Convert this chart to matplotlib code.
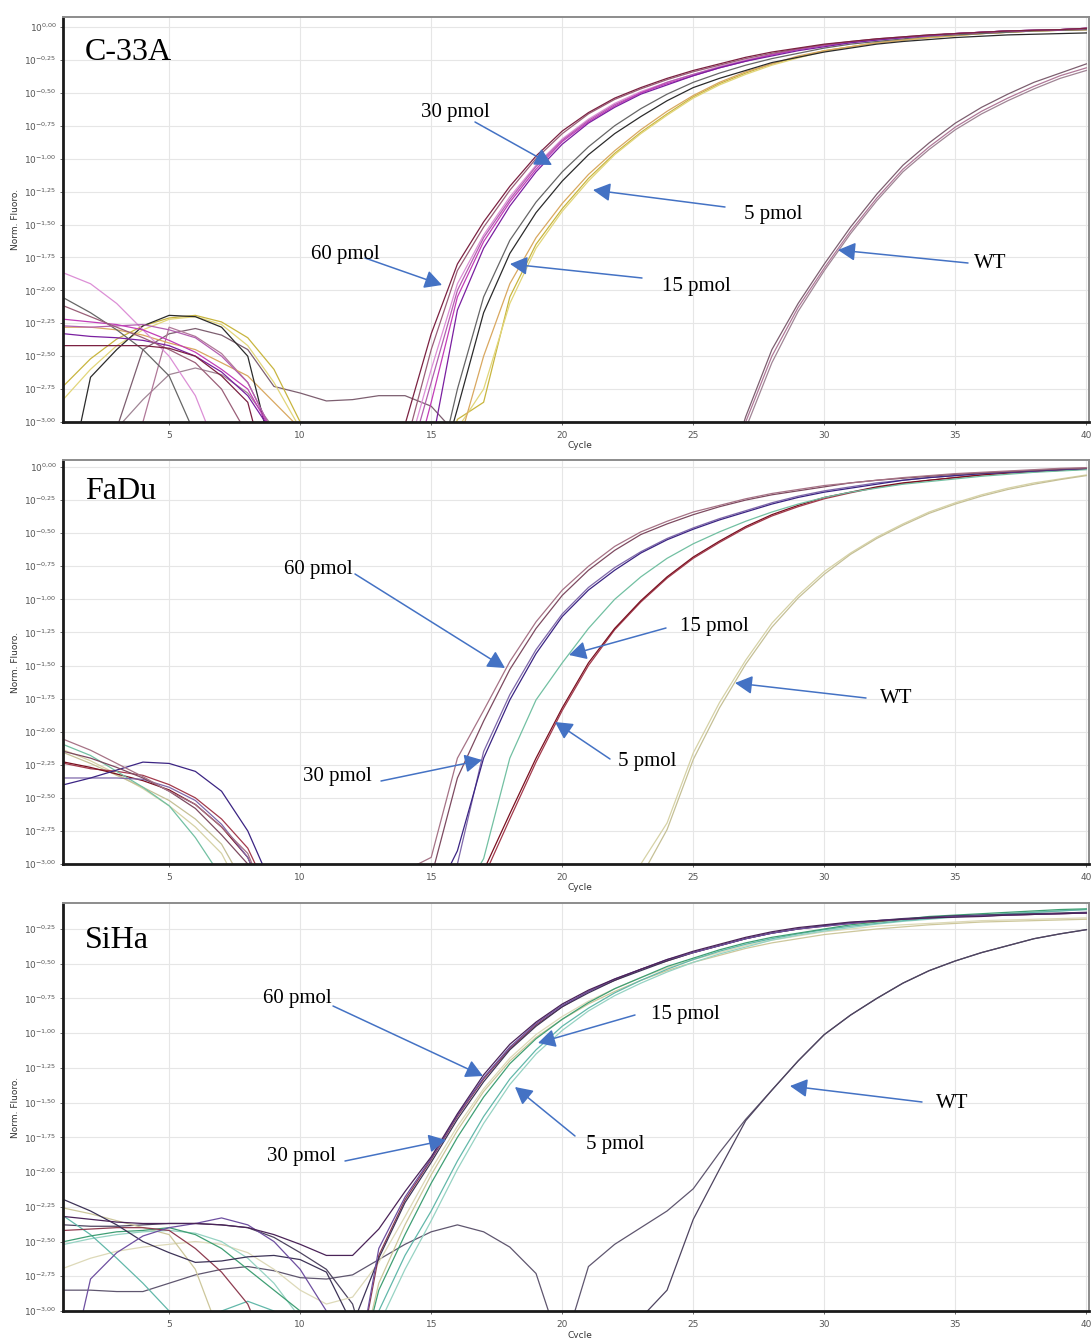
import numpy as np
import matplotlib
matplotlib.use("Agg")
import matplotlib.pyplot as plt

# ---------------- data (log10 of normalised fluorescence, cycles 1..40) ----------------
cycles = list(range(1, 41))

# C-33A
c33a_60a = [-2.42,-2.42,-2.42,-2.42,-2.44,-2.50,-2.65,-2.85,-3.6,-3.6, -3.6,-3.6,-3.6,-3.02,-2.33,-1.80,-1.48,-1.21,-0.98,-0.79, -0.65,-0.54,-0.46,-0.39,-0.33,-0.28,-0.23,-0.19,-0.16,-0.13, -0.11,-0.09,-0.075,-0.06,-0.05,-0.04,-0.03,-0.025,-0.02,-0.01]
c33a_60b = [-2.12,-2.20,-2.28,-2.36,-2.45,-2.55,-2.75,-3.1,-3.6,-3.6, -3.6,-3.6,-3.6,-3.2,-2.45,-1.85,-1.52,-1.24,-1.00,-0.81, -0.66,-0.55,-0.47,-0.40,-0.34,-0.29,-0.24,-0.20,-0.165,-0.135, -0.11,-0.09,-0.075,-0.06,-0.05,-0.04,-0.03,-0.025,-0.02,-0.01]
c33a_30a = [-1.87,-1.95,-2.10,-2.30,-2.50,-2.80,-3.3,-3.6,-3.6,-3.6, -3.6,-3.6,-3.6,-3.3,-2.60,-1.95,-1.58,-1.29,-1.05,-0.85, -0.70,-0.58,-0.49,-0.42,-0.36,-0.30,-0.25,-0.21,-0.17,-0.14, -0.115,-0.095,-0.08,-0.065,-0.05,-0.04,-0.03,-0.025,-0.02,-0.01]
c33a_30b = [-2.22,-2.24,-2.26,-2.30,-2.38,-2.47,-2.60,-2.75,-3.1,-3.6, -3.6,-3.6,-3.6,-3.6,-2.85,-2.05,-1.63,-1.33,-1.08,-0.87, -0.72,-0.60,-0.50,-0.43,-0.37,-0.31,-0.26,-0.21,-0.17,-0.14, -0.115,-0.095,-0.08,-0.065,-0.05,-0.04,-0.03,-0.025,-0.02,-0.01]
c33a_30c = [-2.33,-2.35,-2.36,-2.38,-2.42,-2.50,-2.62,-2.80,-3.1,-3.6, -3.6,-3.6,-3.6,-3.6,-3.2,-2.15,-1.68,-1.36,-1.10,-0.89, -0.73,-0.61,-0.51,-0.44,-0.37,-0.31,-0.26,-0.22,-0.18,-0.15, -0.12,-0.10,-0.08,-0.065,-0.05,-0.04,-0.03,-0.025,-0.02,-0.01]
c33a_30d = [-2.27,-2.28,-2.27,-2.26,-2.30,-2.36,-2.50,-2.70,-3.1,-3.6, -3.6,-3.6,-3.6,-3.4,-2.70,-2.00,-1.60,-1.31,-1.06,-0.86, -0.71,-0.59,-0.50,-0.42,-0.36,-0.305,-0.255,-0.21,-0.17,-0.14, -0.115,-0.095,-0.08,-0.065,-0.05,-0.04,-0.03,-0.025,-0.02,-0.01]
c33a_15a = [-3.6,-2.66,-2.45,-2.27,-2.19,-2.20,-2.28,-2.50,-3.3,-3.6, -3.6,-3.6,-3.6,-3.6,-3.6,-2.90,-2.17,-1.72,-1.41,-1.17, -0.97,-0.81,-0.68,-0.56,-0.46,-0.39,-0.33,-0.27,-0.23,-0.19, -0.16,-0.13,-0.11,-0.095,-0.08,-0.07,-0.06,-0.055,-0.05,-0.045]
c33a_15b = [-2.06,-2.17,-2.30,-2.45,-2.65,-3.1,-3.6,-3.6,-3.6,-3.6, -3.6,-3.6,-3.6,-3.6,-3.6,-2.75,-2.05,-1.62,-1.33,-1.10, -0.91,-0.75,-0.62,-0.51,-0.42,-0.35,-0.29,-0.24,-0.20,-0.16, -0.13,-0.11,-0.09,-0.07,-0.06,-0.05,-0.04,-0.03,-0.025,-0.02]
c33a_5a = [-2.72,-2.52,-2.37,-2.27,-2.21,-2.19,-2.24,-2.36,-2.60,-3.0, -3.6,-3.6,-3.6,-3.6,-3.6,-2.98,-2.85,-2.05,-1.65,-1.38, -1.15,-0.96,-0.80,-0.66,-0.53,-0.43,-0.35,-0.28,-0.23,-0.18, -0.15,-0.12,-0.10,-0.08,-0.065,-0.05,-0.04,-0.03,-0.025,-0.02]
c33a_5b = [-2.82,-2.60,-2.42,-2.30,-2.22,-2.20,-2.26,-2.42,-2.70,-3.05, -3.6,-3.6,-3.6,-3.6,-3.6,-3.05,-2.75,-2.10,-1.68,-1.40, -1.17,-0.97,-0.81,-0.67,-0.54,-0.44,-0.36,-0.29,-0.235,-0.185, -0.15,-0.12,-0.10,-0.08,-0.065,-0.05,-0.04,-0.03,-0.025,-0.02]
c33a_5c = [-2.28,-2.28,-2.30,-2.34,-2.40,-2.45,-2.55,-2.65,-2.85,-3.05, -3.6,-3.6,-3.6,-3.6,-3.6,-3.2,-2.50,-1.95,-1.60,-1.34, -1.12,-0.94,-0.78,-0.64,-0.52,-0.42,-0.34,-0.28,-0.22,-0.18, -0.15,-0.12,-0.10,-0.08,-0.065,-0.05,-0.04,-0.03,-0.025,-0.02]
c33a_wta = [-3.6,-3.6,-3.05,-2.45,-2.33,-2.29,-2.34,-2.45,-2.73,-2.78, -2.84,-2.83,-2.80,-2.80,-2.88,-3.1,-3.6,-3.6,-3.6,-3.6, -3.6,-3.6,-3.6,-3.6,-3.6,-3.6,-2.96,-2.45,-2.10,-1.80, -1.52,-1.27,-1.05,-0.88,-0.73,-0.61,-0.51,-0.42,-0.35,-0.28]
c33a_wtb = [-3.6,-3.6,-3.05,-2.83,-2.64,-2.59,-2.64,-2.78,-3.05,-3.6, -3.6,-3.6,-3.6,-3.6,-3.6,-3.6,-3.6,-3.6,-3.6,-3.6, -3.6,-3.6,-3.6,-3.6,-3.6,-3.6,-3.05,-2.55,-2.16,-1.85, -1.57,-1.32,-1.10,-0.93,-0.78,-0.66,-0.56,-0.47,-0.39,-0.33]
c33a_wtc = [-3.6,-3.6,-3.6,-3.0,-2.28,-2.35,-2.48,-2.70,-3.1,-3.6, -3.6,-3.6,-3.6,-3.6,-3.6,-3.6,-3.6,-3.6,-3.6,-3.6, -3.6,-3.6,-3.6,-3.6,-3.6,-3.6,-3.0,-2.50,-2.13,-1.83, -1.55,-1.30,-1.08,-0.91,-0.76,-0.64,-0.54,-0.45,-0.37,-0.31]

# FaDu
fadu_60a = [-2.06,-2.14,-2.24,-2.34,-2.45,-2.55,-2.72,-2.92,-3.4,-3.6, -3.6,-3.6,-3.6,-3.05,-2.95,-2.20,-1.84,-1.47,-1.17,-0.93, -0.75,-0.60,-0.49,-0.41,-0.34,-0.29,-0.24,-0.20,-0.17,-0.14, -0.12,-0.10,-0.08,-0.065,-0.05,-0.04,-0.03,-0.02,-0.01,-0.005]
fadu_60b = [-2.15,-2.20,-2.27,-2.35,-2.45,-2.58,-2.78,-3.0,-3.5,-3.6, -3.6,-3.6,-3.6,-3.6,-3.1,-2.35,-1.92,-1.53,-1.22,-0.97, -0.78,-0.63,-0.51,-0.43,-0.36,-0.30,-0.25,-0.21,-0.18,-0.15, -0.12,-0.10,-0.085,-0.07,-0.055,-0.045,-0.035,-0.025,-0.015,-0.008]
fadu_30a = [-2.40,-2.35,-2.29,-2.23,-2.24,-2.30,-2.45,-2.75,-3.2,-3.6, -3.6,-3.6,-3.6,-3.6,-3.3,-2.90,-2.20,-1.76,-1.41,-1.13, -0.93,-0.78,-0.65,-0.55,-0.47,-0.40,-0.34,-0.28,-0.23,-0.19, -0.16,-0.13,-0.10,-0.08,-0.065,-0.05,-0.04,-0.03,-0.02,-0.01]
fadu_30b = [-2.35,-2.35,-2.35,-2.36,-2.42,-2.52,-2.70,-2.95,-3.4,-3.6, -3.6,-3.6,-3.6,-3.6,-3.6,-3.0,-2.15,-1.72,-1.38,-1.11, -0.91,-0.76,-0.64,-0.54,-0.46,-0.39,-0.33,-0.27,-0.22,-0.18, -0.15,-0.12,-0.10,-0.08,-0.065,-0.05,-0.04,-0.03,-0.02,-0.01]
fadu_15 = [-2.10,-2.18,-2.30,-2.42,-2.56,-2.80,-3.1,-3.6,-3.6,-3.6, -3.6,-3.6,-3.6,-3.6,-3.6,-3.3,-2.96,-2.20,-1.76,-1.48, -1.22,-1.00,-0.83,-0.69,-0.58,-0.49,-0.41,-0.34,-0.28,-0.23, -0.19,-0.16,-0.13,-0.11,-0.09,-0.07,-0.055,-0.04,-0.03,-0.02]
fadu_5a = [-2.23,-2.27,-2.32,-2.37,-2.44,-2.55,-2.72,-2.95,-3.4,-3.6, -3.6,-3.6,-3.6,-3.6,-3.6,-3.6,-3.05,-2.62,-2.20,-1.82, -1.48,-1.22,-1.01,-0.83,-0.68,-0.56,-0.45,-0.36,-0.29,-0.23, -0.19,-0.15,-0.12,-0.10,-0.08,-0.06,-0.045,-0.035,-0.025,-0.015]
fadu_5b = [-2.24,-2.28,-2.30,-2.33,-2.40,-2.50,-2.66,-2.88,-3.3,-3.6, -3.6,-3.6,-3.6,-3.6,-3.6,-3.6,-3.1,-2.66,-2.23,-1.84, -1.50,-1.23,-1.02,-0.84,-0.69,-0.57,-0.46,-0.37,-0.30,-0.24, -0.195,-0.155,-0.125,-0.10,-0.08,-0.06,-0.045,-0.035,-0.025,-0.015]
fadu_wta = [-2.14,-2.22,-2.32,-2.43,-2.56,-2.72,-2.92,-3.3,-3.6,-3.6, -3.6,-3.6,-3.6,-3.6,-3.6,-3.6,-3.6,-3.6,-3.6,-3.6, -3.6,-3.6,-3.0,-2.69,-2.16,-1.78,-1.46,-1.18,-0.97,-0.79, -0.65,-0.53,-0.43,-0.34,-0.27,-0.21,-0.16,-0.12,-0.09,-0.06]
fadu_wtb = [-2.16,-2.24,-2.33,-2.42,-2.52,-2.66,-2.85,-3.2,-3.6,-3.6, -3.6,-3.6,-3.6,-3.6,-3.6,-3.6,-3.6,-3.6,-3.6,-3.6, -3.6,-3.6,-3.1,-2.74,-2.21,-1.82,-1.49,-1.21,-0.99,-0.81, -0.66,-0.54,-0.44,-0.35,-0.28,-0.22,-0.17,-0.13,-0.095,-0.065]

# SiHa
siha_60 = [-2.32,-2.34,-2.36,-2.37,-2.37,-2.37,-2.38,-2.40,-2.45,-2.52, -2.60,-2.60,-2.41,-2.14,-1.89,-1.58,-1.30,-1.08,-0.92,-0.79, -0.69,-0.61,-0.54,-0.47,-0.41,-0.36,-0.31,-0.27,-0.24,-0.22, -0.20,-0.19,-0.18,-0.17,-0.165,-0.16,-0.15,-0.145,-0.14,-0.135]
siha_30a = [-3.6,-2.77,-2.58,-2.46,-2.40,-2.37,-2.33,-2.38,-2.50,-2.70, -3.0,-3.6,-2.55,-2.18,-1.90,-1.59,-1.32,-1.10,-0.93,-0.80, -0.70,-0.61,-0.54,-0.47,-0.42,-0.37,-0.32,-0.28,-0.25,-0.23, -0.21,-0.19,-0.18,-0.17,-0.16,-0.155,-0.15,-0.145,-0.14,-0.135]
siha_30b = [-2.20,-2.28,-2.38,-2.50,-2.58,-2.65,-2.64,-2.61,-2.60,-2.63, -2.72,-3.1,-2.62,-2.22,-1.93,-1.62,-1.35,-1.12,-0.95,-0.81, -0.71,-0.62,-0.55,-0.48,-0.42,-0.37,-0.32,-0.28,-0.25,-0.225, -0.205,-0.19,-0.175,-0.165,-0.155,-0.15,-0.145,-0.14,-0.135,-0.13]
siha_mar = [-2.42,-2.41,-2.40,-2.40,-2.42,-2.55,-2.72,-2.95,-3.4,-3.6, -3.6,-3.6,-2.60,-2.20,-1.91,-1.60,-1.33,-1.11,-0.94,-0.81, -0.70,-0.62,-0.54,-0.48,-0.42,-0.37,-0.32,-0.28,-0.25,-0.23, -0.21,-0.195,-0.18,-0.17,-0.16,-0.155,-0.15,-0.145,-0.14,-0.135]
siha_15a = [-2.50,-2.46,-2.43,-2.42,-2.40,-2.45,-2.55,-2.70,-2.85,-3.0, -3.6,-3.6,-2.85,-2.45,-2.08,-1.75,-1.46,-1.22,-1.04,-0.90, -0.78,-0.68,-0.60,-0.52,-0.46,-0.40,-0.35,-0.31,-0.28,-0.25, -0.22,-0.20,-0.18,-0.16,-0.15,-0.14,-0.13,-0.12,-0.11,-0.105]
siha_5a = [-2.32,-2.45,-2.62,-2.80,-3.0,-3.6,-3.0,-2.93,-3.0,-3.6, -3.6,-3.6,-3.0,-2.60,-2.28,-1.92,-1.60,-1.33,-1.12,-0.95, -0.82,-0.71,-0.62,-0.54,-0.47,-0.41,-0.36,-0.32,-0.285,-0.255, -0.23,-0.21,-0.19,-0.175,-0.16,-0.15,-0.14,-0.13,-0.12,-0.11]
siha_5b = [-2.52,-2.48,-2.45,-2.43,-2.42,-2.44,-2.50,-2.62,-2.80,-3.05, -3.6,-3.6,-3.1,-2.70,-2.35,-1.98,-1.65,-1.37,-1.15,-0.98, -0.84,-0.73,-0.64,-0.56,-0.49,-0.43,-0.38,-0.33,-0.295,-0.265, -0.24,-0.215,-0.195,-0.18,-0.165,-0.15,-0.14,-0.13,-0.12,-0.11]
siha_kh = [-2.26,-2.30,-2.35,-2.40,-2.45,-2.70,-3.2,-3.6,-3.6,-3.6, -3.6,-3.6,-2.80,-2.38,-2.02,-1.70,-1.42,-1.20,-1.03,-0.90, -0.79,-0.70,-0.62,-0.55,-0.49,-0.44,-0.39,-0.35,-0.32,-0.29, -0.27,-0.25,-0.235,-0.22,-0.21,-0.20,-0.195,-0.19,-0.185,-0.18]
siha_kh2 = [-2.69,-2.62,-2.57,-2.54,-2.52,-2.50,-2.52,-2.58,-2.70,-2.85, -2.95,-2.90,-2.65,-2.32,-1.98,-1.67,-1.40,-1.18,-1.01,-0.88, -0.77,-0.68,-0.60,-0.53,-0.47,-0.42,-0.37,-0.33,-0.30,-0.27, -0.25,-0.23,-0.22,-0.21,-0.20,-0.19,-0.185,-0.18,-0.175,-0.17]
siha_wt1 = [-2.38,-2.39,-2.39,-2.38,-2.37,-2.37,-2.38,-2.40,-2.47,-2.58, -2.70,-2.95,-3.6,-3.6,-3.6,-3.6,-3.6,-3.6,-3.6,-3.6, -3.6,-3.6,-3.05,-2.85,-2.34,-1.98,-1.63,-1.41,-1.20,-1.01, -0.87,-0.75,-0.64,-0.55,-0.48,-0.42,-0.37,-0.32,-0.285,-0.255]
siha_wt2 = [-2.85,-2.85,-2.86,-2.86,-2.80,-2.74,-2.70,-2.68,-2.71,-2.76, -2.77,-2.74,-2.63,-2.52,-2.43,-2.38,-2.43,-2.54,-2.73,-3.3, -2.68,-2.52,-2.40,-2.28,-2.12,-1.86,-1.62,-1.41,-1.20,-1.01, -0.87,-0.75,-0.64,-0.55,-0.48,-0.42,-0.37,-0.32,-0.285,-0.255]

y_exps_full = [0.0, -0.25, -0.5, -0.75, -1.0, -1.25, -1.5, -1.75, -2.0, -2.25, -2.5, -2.75, -3.0]
x_ticks = [5, 10, 15, 20, 25, 30, 35, 40]
panel_names = ["C-33A", "FaDu", "SiHa"]

panels = [
    [(c33a_wta, '#7d5f70'), (c33a_wtb, '#a08595'), (c33a_wtc, '#b07898'),
     (c33a_5a, '#c8b53e'), (c33a_5b, '#e2d67a'), (c33a_5c, '#d9a860'),
     (c33a_15a, '#2b2b2b'), (c33a_15b, '#666666'),
     (c33a_30a, '#dc8fd6'), (c33a_30d, '#b35fb0'), (c33a_30b, '#c23db8'), (c33a_30c, '#7a1fa0'),
     (c33a_60b, '#9a5f78'), (c33a_60a, '#7b2141')],
    [(fadu_wta, '#d6d2a6'), (fadu_wtb, '#c5c096'),
     (fadu_5b, '#a33a4c'), (fadu_5a, '#7a1020'),
     (fadu_15, '#72c0a2'),
     (fadu_30b, '#7f68aa'), (fadu_30a, '#3b2483'),
     (fadu_60b, '#7d4a60'), (fadu_60a, '#a67386')],
    [(siha_wt2, '#5f566f'), (siha_wt1, '#4e4460'),
     (siha_kh2, '#ddd9b8'), (siha_kh, '#cdc79b'),
     (siha_5b, '#96d3c3'), (siha_5a, '#62b8aa'), (siha_15a, '#3f9f74'),
     (siha_mar, '#8e3c50'), (siha_30b, '#3d3357'), (siha_30a, '#6e4fa0'), (siha_60, '#4a2358')],
]

W, H = 1091, 1338
def fp(x, y):
    return (x / W, 1 - y / H)

# axes boxes in pixels: (top, bottom), and y-limits (exponents)
boxes = [(17, 422), (460, 864), (903, 1311)]
ytops = [0.076, 0.053, -0.063]
left_px, right_px = 63, 1089

annotations = [
    [("30 pmol", (455, 113), (475, 122), (552, 165)),
     ("60 pmol", (345, 254), (365, 258), (442, 285)),
     ("5 pmol", (773, 214), (725, 207), (593, 190)),
     ("15 pmol", (696, 287), (642, 278), (510, 264)),
     ("WT", (990, 264), (968, 263), (838, 250))],
    [("60 pmol", (318, 569), (355, 574), (505, 668)),
     ("15 pmol", (714, 626), (666, 628), (569, 655)),
     ("WT", (896, 699), (866, 698), (735, 683)),
     ("5 pmol", (647, 761), (610, 759), (555, 722)),
     ("30 pmol", (337, 777), (381, 781), (482, 760))],
    [("60 pmol", (297, 999), (333, 1006), (483, 1076)),
     ("15 pmol", (685, 1014), (635, 1015), (538, 1043)),
     ("WT", (952, 1103), (922, 1102), (790, 1086)),
     ("5 pmol", (615, 1144), (575, 1136), (515, 1087)),
     ("30 pmol", (301, 1157), (345, 1161), (446, 1140))],
]

fig = plt.figure(figsize=(W / 100, H / 100), dpi=100)
fig.patch.set_facecolor('white')

serif = ['Liberation Serif', 'DejaVu Serif']
tick_color = '#555555'
arrow_color = '#4472C4'

def exp_label(e):
    s = f"{abs(e):.2f}".replace('.', '{,}')
    if e < 0:
        s = '-' + s
    return r'$10^{' + s + '}$'

for i, (curves, (top, bot), ytop) in enumerate(zip(panels, boxes, ytops)):
    ax = fig.add_axes([left_px / W, 1 - bot / H, (right_px - left_px) / W, (bot - top) / H])
    ax.set_yscale('log')
    for vals, col in curves:
        ax.plot(cycles, 10 ** np.array(vals), color=col, lw=0.9, solid_joinstyle='round')
    ax.set_xlim(0.95, 40.1)
    ax.set_ylim(10 ** -3.0, 10 ** ytop)
    exps = [e for e in y_exps_full if e <= ytop + 1e-9]
    ax.set_yticks([10 ** e for e in exps])
    ax.set_yticklabels([exp_label(e) for e in exps])
    ax.yaxis.set_minor_locator(matplotlib.ticker.NullLocator())
    ax.set_xticks(x_ticks)
    ax.set_xticklabels([str(t) for t in x_ticks])
    ax.tick_params(axis='both', labelsize=6.5, colors=tick_color, length=2.5, width=0.6)
    ax.tick_params(axis='x', pad=4)
    ax.tick_params(axis='y', pad=2)
    ax.grid(True, color='#e6e6e6', lw=0.8)
    ax.set_axisbelow(True)
    for side in ['left', 'bottom']:
        ax.spines[side].set_color('#1a1a1a')
        ax.spines[side].set_linewidth(2.0)
    for side in ['top', 'right']:
        ax.spines[side].set_color('#8c8c8c')
        ax.spines[side].set_linewidth(1.4)

    # panel name
    name_y = [52, 492, 940][i]
    fig.text(*fp(85, name_y), panel_names[i], ha='left', va='center',
             fontsize=23, family=serif, color='black')
    # axis labels
    fig.text(*fp(15, (top + bot) / 2), 'Norm. Fluoro.', rotation=90, ha='center', va='center',
             fontsize=6.5, color='#333333')
    fig.text(*fp(580, bot + 24), 'Cycle', ha='center', va='center', fontsize=6.5, color='#333333')

    # annotations
    for label, tpos, start, tip in annotations[i]:
        ax.annotate('', xy=fp(*tip), xycoords='figure fraction',
                    xytext=fp(*start), textcoords='figure fraction',
                    arrowprops=dict(arrowstyle='-|>,head_length=0.75,head_width=0.4',
                                    color=arrow_color, lw=1.1, shrinkA=0, shrinkB=0,
                                    mutation_scale=14),
                    annotation_clip=False, zorder=10)
        fig.text(*fp(*tpos), label, ha='center', va='center', fontsize=15,
                 family=serif, color='black', zorder=11)

fig.savefig('out.png', dpi=100, facecolor='white')
